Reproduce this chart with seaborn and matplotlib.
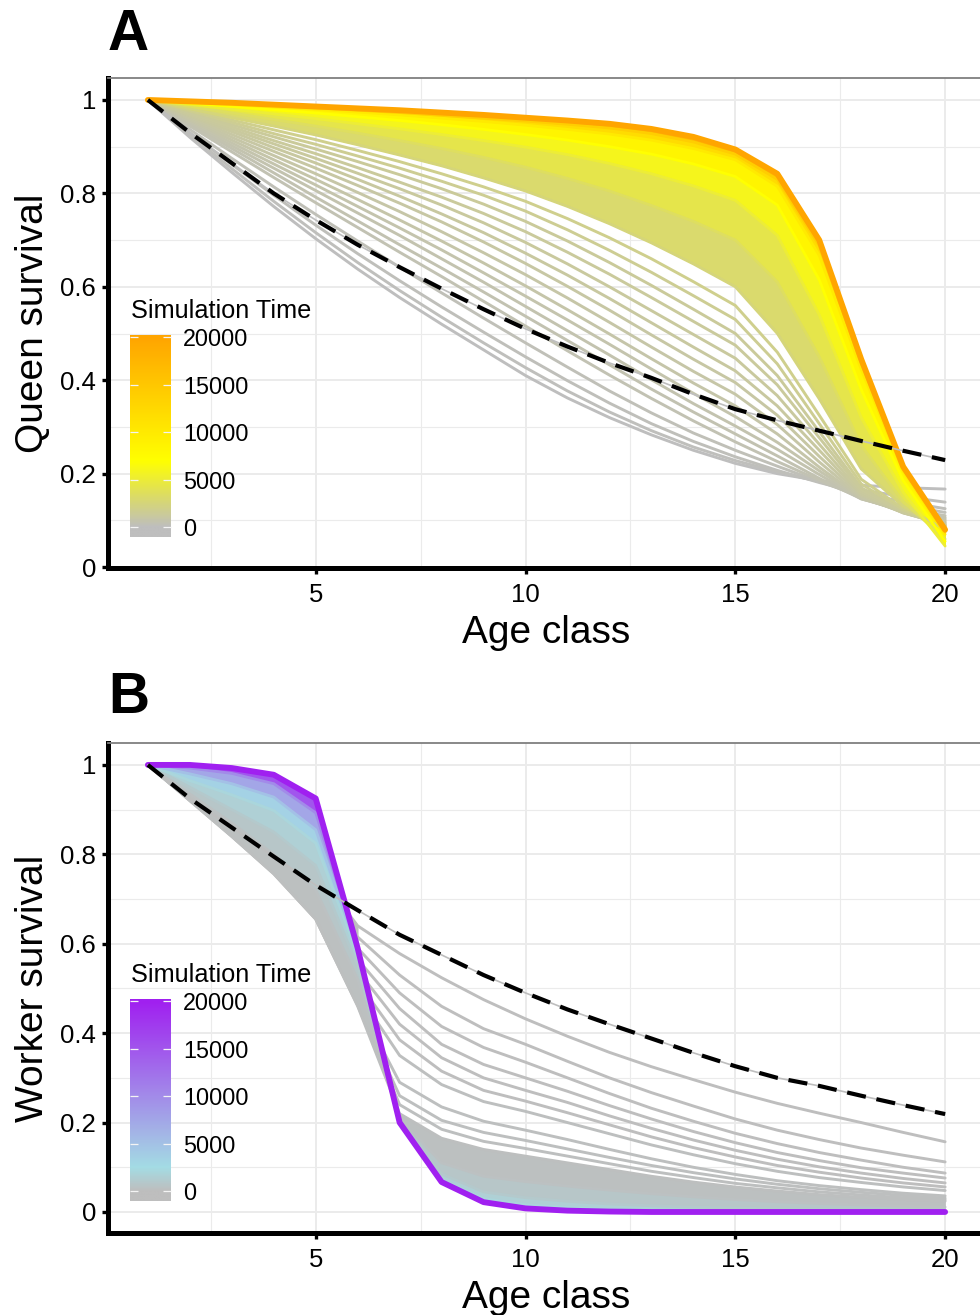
import numpy as np
import pandas as pd
import matplotlib
matplotlib.use('Agg')
import matplotlib.pyplot as plt
import seaborn as sns
from matplotlib.colors import LinearSegmentedColormap, Normalize
from matplotlib.ticker import FixedLocator, MultipleLocator

# age classes shared by both panels
ages = list(range(1, 21))

# Panel A: queen survival by age, one curve per simulation time
queen_times = [0, 100, 200, 300, 400, 500, 600, 700, 800, 900, 1000, 1100, 1200, 1300, 1400, 1600, 1800,
               2500, 3500, 5000, 7000, 10000, 14000, 20000]
q_t0 = [1.0, 0.92, 0.845, 0.772, 0.703, 0.638, 0.577, 0.52, 0.465, 0.41, 0.362, 0.32, 0.283, 0.25, 0.222, 0.2, 0.185, 0.175, 0.17, 0.167]
q_t100 = [1.0, 0.925, 0.853, 0.783, 0.716, 0.652, 0.592, 0.535, 0.48, 0.427, 0.377, 0.332, 0.292, 0.257, 0.228, 0.204, 0.183, 0.165, 0.151, 0.139]
q_t200 = [1.0, 0.93, 0.862, 0.796, 0.732, 0.671, 0.613, 0.557, 0.503, 0.45, 0.399, 0.351, 0.307, 0.269, 0.236, 0.207, 0.181, 0.158, 0.14, 0.125]
q_t300 = [1.0, 0.937, 0.875, 0.814, 0.755, 0.698, 0.642, 0.587, 0.533, 0.48, 0.428, 0.377, 0.33, 0.287, 0.25, 0.216, 0.183, 0.152, 0.132, 0.117]
q_t400 = [1.0, 0.944, 0.889, 0.834, 0.78, 0.727, 0.674, 0.622, 0.569, 0.516, 0.463, 0.411, 0.361, 0.313, 0.268, 0.226, 0.186, 0.148, 0.126, 0.11]
q_t500 = [1.0, 0.948, 0.896, 0.844, 0.792, 0.741, 0.69, 0.64, 0.589, 0.537, 0.485, 0.433, 0.381, 0.332, 0.285, 0.238, 0.19, 0.146, 0.123, 0.106]
q_t600 = [1.0, 0.951, 0.902, 0.854, 0.806, 0.758, 0.71, 0.66, 0.61, 0.558, 0.506, 0.454, 0.401, 0.35, 0.302, 0.252, 0.198, 0.146, 0.121, 0.103]
q_t700 = [1.0, 0.954, 0.908, 0.863, 0.818, 0.772, 0.726, 0.679, 0.63, 0.58, 0.529, 0.477, 0.424, 0.372, 0.322, 0.267, 0.206, 0.147, 0.12, 0.1]
q_t800 = [1.0, 0.957, 0.914, 0.872, 0.83, 0.787, 0.743, 0.698, 0.651, 0.602, 0.551, 0.499, 0.446, 0.394, 0.345, 0.285, 0.214, 0.148, 0.118, 0.097]
q_t900 = [1.0, 0.96, 0.92, 0.881, 0.842, 0.802, 0.761, 0.718, 0.673, 0.626, 0.576, 0.524, 0.471, 0.419, 0.37, 0.305, 0.225, 0.15, 0.117, 0.095]
q_t1000 = [1.0, 0.963, 0.926, 0.89, 0.854, 0.817, 0.779, 0.739, 0.696, 0.65, 0.601, 0.55, 0.497, 0.445, 0.395, 0.325, 0.237, 0.153, 0.116, 0.093]
q_t1100 = [1.0, 0.966, 0.932, 0.898, 0.865, 0.83, 0.794, 0.756, 0.716, 0.672, 0.625, 0.575, 0.523, 0.471, 0.42, 0.345, 0.25, 0.156, 0.116, 0.091]
q_t1200 = [1.0, 0.968, 0.937, 0.906, 0.875, 0.843, 0.81, 0.775, 0.737, 0.695, 0.649, 0.6, 0.549, 0.498, 0.447, 0.367, 0.263, 0.16, 0.117, 0.09]
q_t1300 = [1.0, 0.971, 0.942, 0.913, 0.885, 0.855, 0.824, 0.792, 0.757, 0.718, 0.674, 0.627, 0.577, 0.526, 0.475, 0.39, 0.277, 0.165, 0.118, 0.089]
q_t1400 = [1.0, 0.973, 0.947, 0.921, 0.895, 0.868, 0.84, 0.81, 0.777, 0.74, 0.698, 0.652, 0.603, 0.552, 0.5, 0.41, 0.29, 0.17, 0.12, 0.088]
q_t1600 = [1.0, 0.976, 0.952, 0.928, 0.905, 0.88, 0.854, 0.826, 0.796, 0.762, 0.722, 0.678, 0.631, 0.581, 0.53, 0.435, 0.307, 0.178, 0.122, 0.087]
q_t1800 = [1.0, 0.978, 0.957, 0.936, 0.915, 0.892, 0.868, 0.842, 0.814, 0.783, 0.746, 0.705, 0.66, 0.611, 0.56, 0.46, 0.325, 0.188, 0.125, 0.086]
q_t2500 = [1.0, 0.981, 0.962, 0.944, 0.925, 0.904, 0.882, 0.859, 0.833, 0.805, 0.772, 0.735, 0.694, 0.649, 0.6, 0.5, 0.36, 0.21, 0.13, 0.08]
q_t3500 = [1.0, 0.986, 0.972, 0.958, 0.944, 0.929, 0.913, 0.896, 0.877, 0.856, 0.832, 0.805, 0.774, 0.74, 0.7, 0.61, 0.45, 0.26, 0.14, 0.06]
q_t5000 = [1.0, 0.99, 0.98, 0.97, 0.96, 0.949, 0.938, 0.926, 0.913, 0.899, 0.883, 0.864, 0.842, 0.816, 0.785, 0.71, 0.54, 0.32, 0.16, 0.045]
q_t7000 = [1.0, 0.993, 0.986, 0.979, 0.972, 0.964, 0.956, 0.947, 0.937, 0.926, 0.914, 0.9, 0.884, 0.863, 0.836, 0.775, 0.615, 0.38, 0.185, 0.055]
q_t10000 = [1.0, 0.995, 0.99, 0.985, 0.98, 0.974, 0.968, 0.961, 0.954, 0.946, 0.937, 0.927, 0.914, 0.896, 0.872, 0.815, 0.667, 0.423, 0.205, 0.07]
q_t14000 = [1.0, 0.996, 0.992, 0.988, 0.983, 0.978, 0.973, 0.967, 0.961, 0.955, 0.948, 0.94, 0.928, 0.91, 0.884, 0.83, 0.688, 0.437, 0.21, 0.075]
q_t20000 = [1.0, 0.997, 0.994, 0.99, 0.986, 0.982, 0.978, 0.973, 0.968, 0.962, 0.956, 0.949, 0.938, 0.921, 0.894, 0.842, 0.70, 0.445, 0.215, 0.08]
queen_ref = [1.0, 0.93, 0.865, 0.80, 0.743, 0.69, 0.642, 0.596, 0.552, 0.51, 0.472, 0.437, 0.405, 0.37, 0.338, 0.314, 0.292, 0.27, 0.249, 0.229]

# Panel B: worker survival by age
worker_times = [0, 15, 30, 45, 60, 75, 90, 105, 120, 135,
                150, 250, 1000, 2000, 5000, 10000, 20000]
w_t0 = [1.0, 0.955, 0.905, 0.845, 0.765, 0.64, 0.578, 0.524, 0.475, 0.432, 0.393, 0.357, 0.325, 0.296, 0.268, 0.243, 0.221, 0.2, 0.178, 0.157]
w_t15 = [1.0, 0.95, 0.895, 0.83, 0.745, 0.615, 0.53, 0.46, 0.41, 0.375, 0.337, 0.3, 0.267, 0.237, 0.208, 0.183, 0.162, 0.143, 0.127, 0.112]
w_t30 = [1.0, 0.945, 0.885, 0.815, 0.725, 0.59, 0.49, 0.415, 0.368, 0.335, 0.3, 0.265, 0.232, 0.203, 0.176, 0.153, 0.133, 0.116, 0.1, 0.087]
w_t45 = [1.0, 0.94, 0.875, 0.8, 0.71, 0.565, 0.455, 0.375, 0.33, 0.3, 0.27, 0.238, 0.208, 0.18, 0.155, 0.133, 0.115, 0.099, 0.087, 0.076]
w_t60 = [1.0, 0.935, 0.865, 0.79, 0.695, 0.54, 0.42, 0.345, 0.3, 0.272, 0.245, 0.215, 0.187, 0.161, 0.138, 0.118, 0.101, 0.087, 0.075, 0.065]
w_t75 = [1.0, 0.93, 0.857, 0.778, 0.68, 0.515, 0.385, 0.315, 0.272, 0.248, 0.222, 0.195, 0.168, 0.144, 0.123, 0.104, 0.089, 0.076, 0.065, 0.056]
w_t90 = [1.0, 0.926, 0.85, 0.768, 0.668, 0.49, 0.35, 0.285, 0.247, 0.225, 0.2, 0.175, 0.15, 0.128, 0.108, 0.091, 0.077, 0.066, 0.056, 0.048]
w_t105 = [1.0, 0.922, 0.843, 0.76, 0.658, 0.47, 0.29, 0.235, 0.203, 0.183, 0.162, 0.14, 0.119, 0.1, 0.084, 0.07, 0.059, 0.05, 0.042, 0.036]
w_t120 = [1.0, 0.921, 0.841, 0.758, 0.656, 0.465, 0.26, 0.205, 0.178, 0.16, 0.141, 0.122, 0.104, 0.088, 0.074, 0.062, 0.052, 0.044, 0.037, 0.031]
w_t135 = [1.0, 0.92, 0.84, 0.757, 0.655, 0.462, 0.24, 0.185, 0.158, 0.142, 0.125, 0.108, 0.091, 0.077, 0.064, 0.054, 0.045, 0.038, 0.032, 0.027]
w_t150 = [1.0, 0.92, 0.84, 0.756, 0.655, 0.46, 0.22, 0.165, 0.14, 0.125, 0.11, 0.095, 0.08, 0.067, 0.056, 0.047, 0.039, 0.033, 0.028, 0.024]
w_t250 = [1.0, 0.935, 0.87, 0.8, 0.72, 0.52, 0.21, 0.11, 0.08, 0.068, 0.058, 0.049, 0.041, 0.034, 0.028, 0.023, 0.019, 0.016, 0.013, 0.011]
w_t1000 = [1.0, 0.95, 0.9, 0.85, 0.775, 0.55, 0.205, 0.085, 0.045, 0.032, 0.024, 0.018, 0.014, 0.011, 0.009, 0.007, 0.006, 0.005, 0.004, 0.004]
w_t2000 = [1.0, 0.965, 0.933, 0.898, 0.825, 0.575, 0.2, 0.072, 0.03, 0.016, 0.01, 0.006, 0.004, 0.003, 0.002, 0.002, 0.001, 0.001, 0.001, 0.001]
w_t5000 = [1.0, 0.98, 0.958, 0.928, 0.855, 0.585, 0.2, 0.068, 0.024, 0.01, 0.004, 0.002, 0.001, 0.0, 0.0, 0.0, 0.0, 0.0, 0.0, 0.0]
w_t10000 = [1.0, 0.993, 0.981, 0.958, 0.893, 0.59, 0.2, 0.067, 0.022, 0.009, 0.003, 0.001, 0.0, 0.0, 0.0, 0.0, 0.0, 0.0, 0.0, 0.0]
w_t20000 = [1.0, 1.0, 0.993, 0.978, 0.925, 0.59, 0.2, 0.067, 0.022, 0.008, 0.003, 0.001, 0.0, 0.0, 0.0, 0.0, 0.0, 0.0, 0.0, 0.0]
worker_ref = [1.0, 0.925, 0.86, 0.795, 0.731, 0.675, 0.62, 0.575, 0.53, 0.49, 0.453, 0.42, 0.388, 0.356, 0.326, 0.3, 0.282, 0.26, 0.239, 0.219]

time_ticks = [0, 5000, 10000, 15000, 20000]

queen_curves = [q_t0, q_t100, q_t200, q_t300, q_t400, q_t500, q_t600, q_t700, q_t800, q_t900,
                q_t1000, q_t1100, q_t1200, q_t1300, q_t1400, q_t1600, q_t1800,
                q_t2500, q_t3500, q_t5000, q_t7000, q_t10000, q_t14000, q_t20000]
worker_curves = [w_t0, w_t15, w_t30, w_t45, w_t60, w_t75, w_t90, w_t105, w_t120, w_t135,
                 w_t150, w_t250, w_t1000, w_t2000, w_t5000, w_t10000, w_t20000]

sns.set_theme(style='white')
plt.rcParams['font.family'] = ['Liberation Sans', 'DejaVu Sans']
plt.rcParams['text.color'] = 'black'
plt.rcParams['axes.labelcolor'] = 'black'
plt.rcParams['xtick.color'] = 'black'
plt.rcParams['ytick.color'] = 'black'

queen_cmap = LinearSegmentedColormap.from_list(
    'queen', [(0, '#BEBEBE'), (0.35, '#FFFF00'), (1, '#FFA500')])
worker_cmap = LinearSegmentedColormap.from_list(
    'worker', [(0, '#BEBEBE'), (0.125, '#A4DCE4'), (1, '#A020F0')])
norm = Normalize(0, 20000)

W, H = 980, 1315
fig = plt.figure(figsize=(W / 100, H / 100), dpi=100)


def long_table(times, curves):
    return pd.DataFrame({
        'time': np.repeat(times, len(ages)),
        'age': np.tile(ages, len(times)),
        'survival': np.concatenate(curves),
    })


def draw_panel(ax, times, curves, ref, cmap, first_dense, cut):
    df = long_table(times, curves)
    a = np.array(ages)

    # early, well separated lines
    sns.lineplot(data=df[df.time < times[first_dense]], x='age', y='survival',
                 hue='time', units='time', estimator=None, palette=cmap,
                 hue_norm=(0, 20000), legend=False, linewidth=2.1, ax=ax, zorder=2)

    # dense bundle: fill between neighbouring curves
    for i in range(len(times) - 1):
        col = cmap(norm((times[i] + times[i + 1]) / 2))
        where = None if i >= first_dense else (a <= cut)
        if where is not None and not where.any():
            continue
        ax.fill_between(a, curves[i], curves[i + 1], where=where, color=col,
                        lw=0.4, edgecolor=col, zorder=2.5)

    sns.lineplot(data=df[(df.time >= times[first_dense]) & (df.time < times[-1])],
                 x='age', y='survival', hue='time', units='time', estimator=None,
                 palette=cmap, hue_norm=(0, 20000), legend=False, linewidth=2.0,
                 ax=ax, zorder=3)
    sns.lineplot(data=df[df.time == times[-1]], x='age', y='survival',
                 color=cmap(1.0), linewidth=4.2, ax=ax, zorder=4)

    # reference curve
    sns.lineplot(x=ages, y=ref, color='#BEBEBE', linewidth=1.2, ax=ax, zorder=5)
    sns.lineplot(x=ages, y=ref, color='black', linewidth=3.0,
                 linestyle=(0, (4.6, 2.6)), ax=ax, zorder=6)


def style_axes(ax, ylim, ylabel):
    ax.set_xlim(0.05, 20.95)
    ax.set_ylim(*ylim)
    ax.set_xticks([5, 10, 15, 20])
    ax.xaxis.set_minor_locator(FixedLocator([2.5, 7.5, 12.5, 17.5]))
    ax.set_yticks([0, 0.2, 0.4, 0.6, 0.8, 1.0])
    ax.set_yticklabels(['0', '0.2', '0.4', '0.6', '0.8', '1'])
    ax.yaxis.set_minor_locator(MultipleLocator(0.1))
    ax.grid(which='major', color='#EBEBEB', lw=1.4)
    ax.grid(which='minor', color='#EBEBEB', lw=0.8)
    ax.set_axisbelow(True)
    ax.tick_params(which='minor', length=0)
    ax.tick_params(axis='x', which='major', pad=6.5)
    ax.tick_params(axis='y', which='major', pad=4.7)
    ax.tick_params(which='major', direction='out', length=4, width=2.4,
                   color='black', labelsize=18.5, labelcolor='black',
                   left=True, bottom=True)
    for s in ['left', 'bottom']:
        ax.spines[s].set_linewidth(3.6)
        ax.spines[s].set_color('black')
    ax.spines['top'].set_color('#7F7F7F')
    ax.spines['top'].set_linewidth(1.3)
    ax.spines['right'].set_visible(False)
    ax.set_xlabel('Age class', fontsize=28, labelpad=6)
    ax.set_ylabel(ylabel, fontsize=28, labelpad=6.5)


def colorbar(cmap, top_px):
    bar_h = 202
    cax = fig.add_axes([130 / W, 1 - (top_px + bar_h) / H, 41 / W, bar_h / H])
    grad = np.linspace(-1000, 20200, 300)[:, None]
    cax.imshow(grad, aspect='auto', origin='lower', extent=[0, 1, -1000, 20200],
               cmap=cmap, norm=norm)
    cax.set_xticks([])
    cax.set_yticks(time_ticks)
    cax.set_yticklabels([str(t) for t in time_ticks])
    cax.tick_params(axis='y', direction='in', length=5.5, width=0.9, color='#F4F4F4',
                    left=True, right=True, labelleft=False, labelright=True,
                    labelsize=16.8, pad=8.5, labelcolor='black')
    for s in cax.spines.values():
        s.set_visible(False)
    fig.text(131 / W, 1 - (top_px - 24) / H, 'Simulation Time', fontsize=18.2,
             ha='left', va='center')


axA = fig.add_axes([108 / W, 1 - 568 / H, 877 / W, 490 / H])
draw_panel(axA, queen_times, queen_curves, queen_ref, queen_cmap, first_dense=17, cut=0)
style_axes(axA, (-0.002, 1.047), 'Queen survival')
colorbar(queen_cmap, 335)
fig.text(108 / W, 1 - 35 / H, 'A', fontsize=41, fontweight='bold', ha='left', va='center')

axB = fig.add_axes([108 / W, 1 - 1233 / H, 877 / W, 490 / H])
draw_panel(axB, worker_times, worker_curves, worker_ref, worker_cmap, first_dense=10, cut=6)
style_axes(axB, (-0.047, 1.049), 'Worker survival')
colorbar(worker_cmap, 999)
fig.text(108 / W, 1 - 698 / H, 'B', fontsize=41, fontweight='bold', ha='left', va='center')

fig.savefig('out.png', dpi=100)
